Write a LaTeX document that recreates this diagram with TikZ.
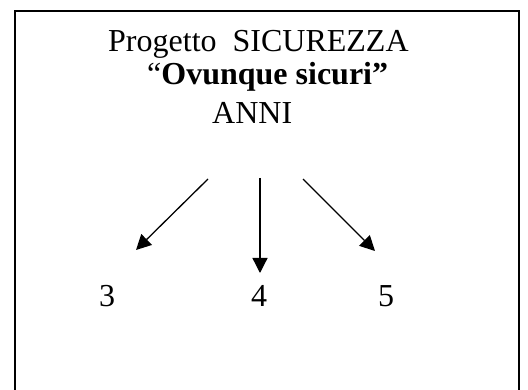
\documentclass[tikz,border=0pt]{standalone}
\usepackage{fontspec}
\setmainfont{Liberation Serif}
\usetikzlibrary{arrows.meta}
\begin{document}
\begin{tikzpicture}[x=1pt,y=-1pt,
        every node/.style={font=\fontsize{32}{38}\selectfont,inner sep=0pt,anchor=base west},
        freccia/.style={line width=1.3pt,-{Triangle[length=15pt,width=15pt]}}]
        \useasboundingbox (0,0) rectangle (528,390);
        \draw [line width=2pt] (14.5,390) -- (14.5,11) -- (519,11) -- (519,390);

        \node (titolo) at (108,52) {Progetto\ \ SICUREZZA};
        \node (motto) at (147,85) {“\textbf{Ovunque sicuri”}};
        \node (anni) at (212,124) {ANNI};

        \node (tre) at (99,307) {3};
        \node (quattro) at (251,307) {4};
        \node (cinque) at (378,307) {5};

        \coordinate (da3) at (208,179);
        \coordinate (da4) at (260,178);
        \coordinate (da5) at (303,179);
        \coordinate (a3) at (136,250);
        \coordinate (a4) at (260,273);
        \coordinate (a5) at (375,251);

        \draw [freccia] (da3) -- (a3);
        \draw [freccia] (da4) -- (a4);
        \draw [freccia] (da5) -- (a5);
\end{tikzpicture}
\end{document}
